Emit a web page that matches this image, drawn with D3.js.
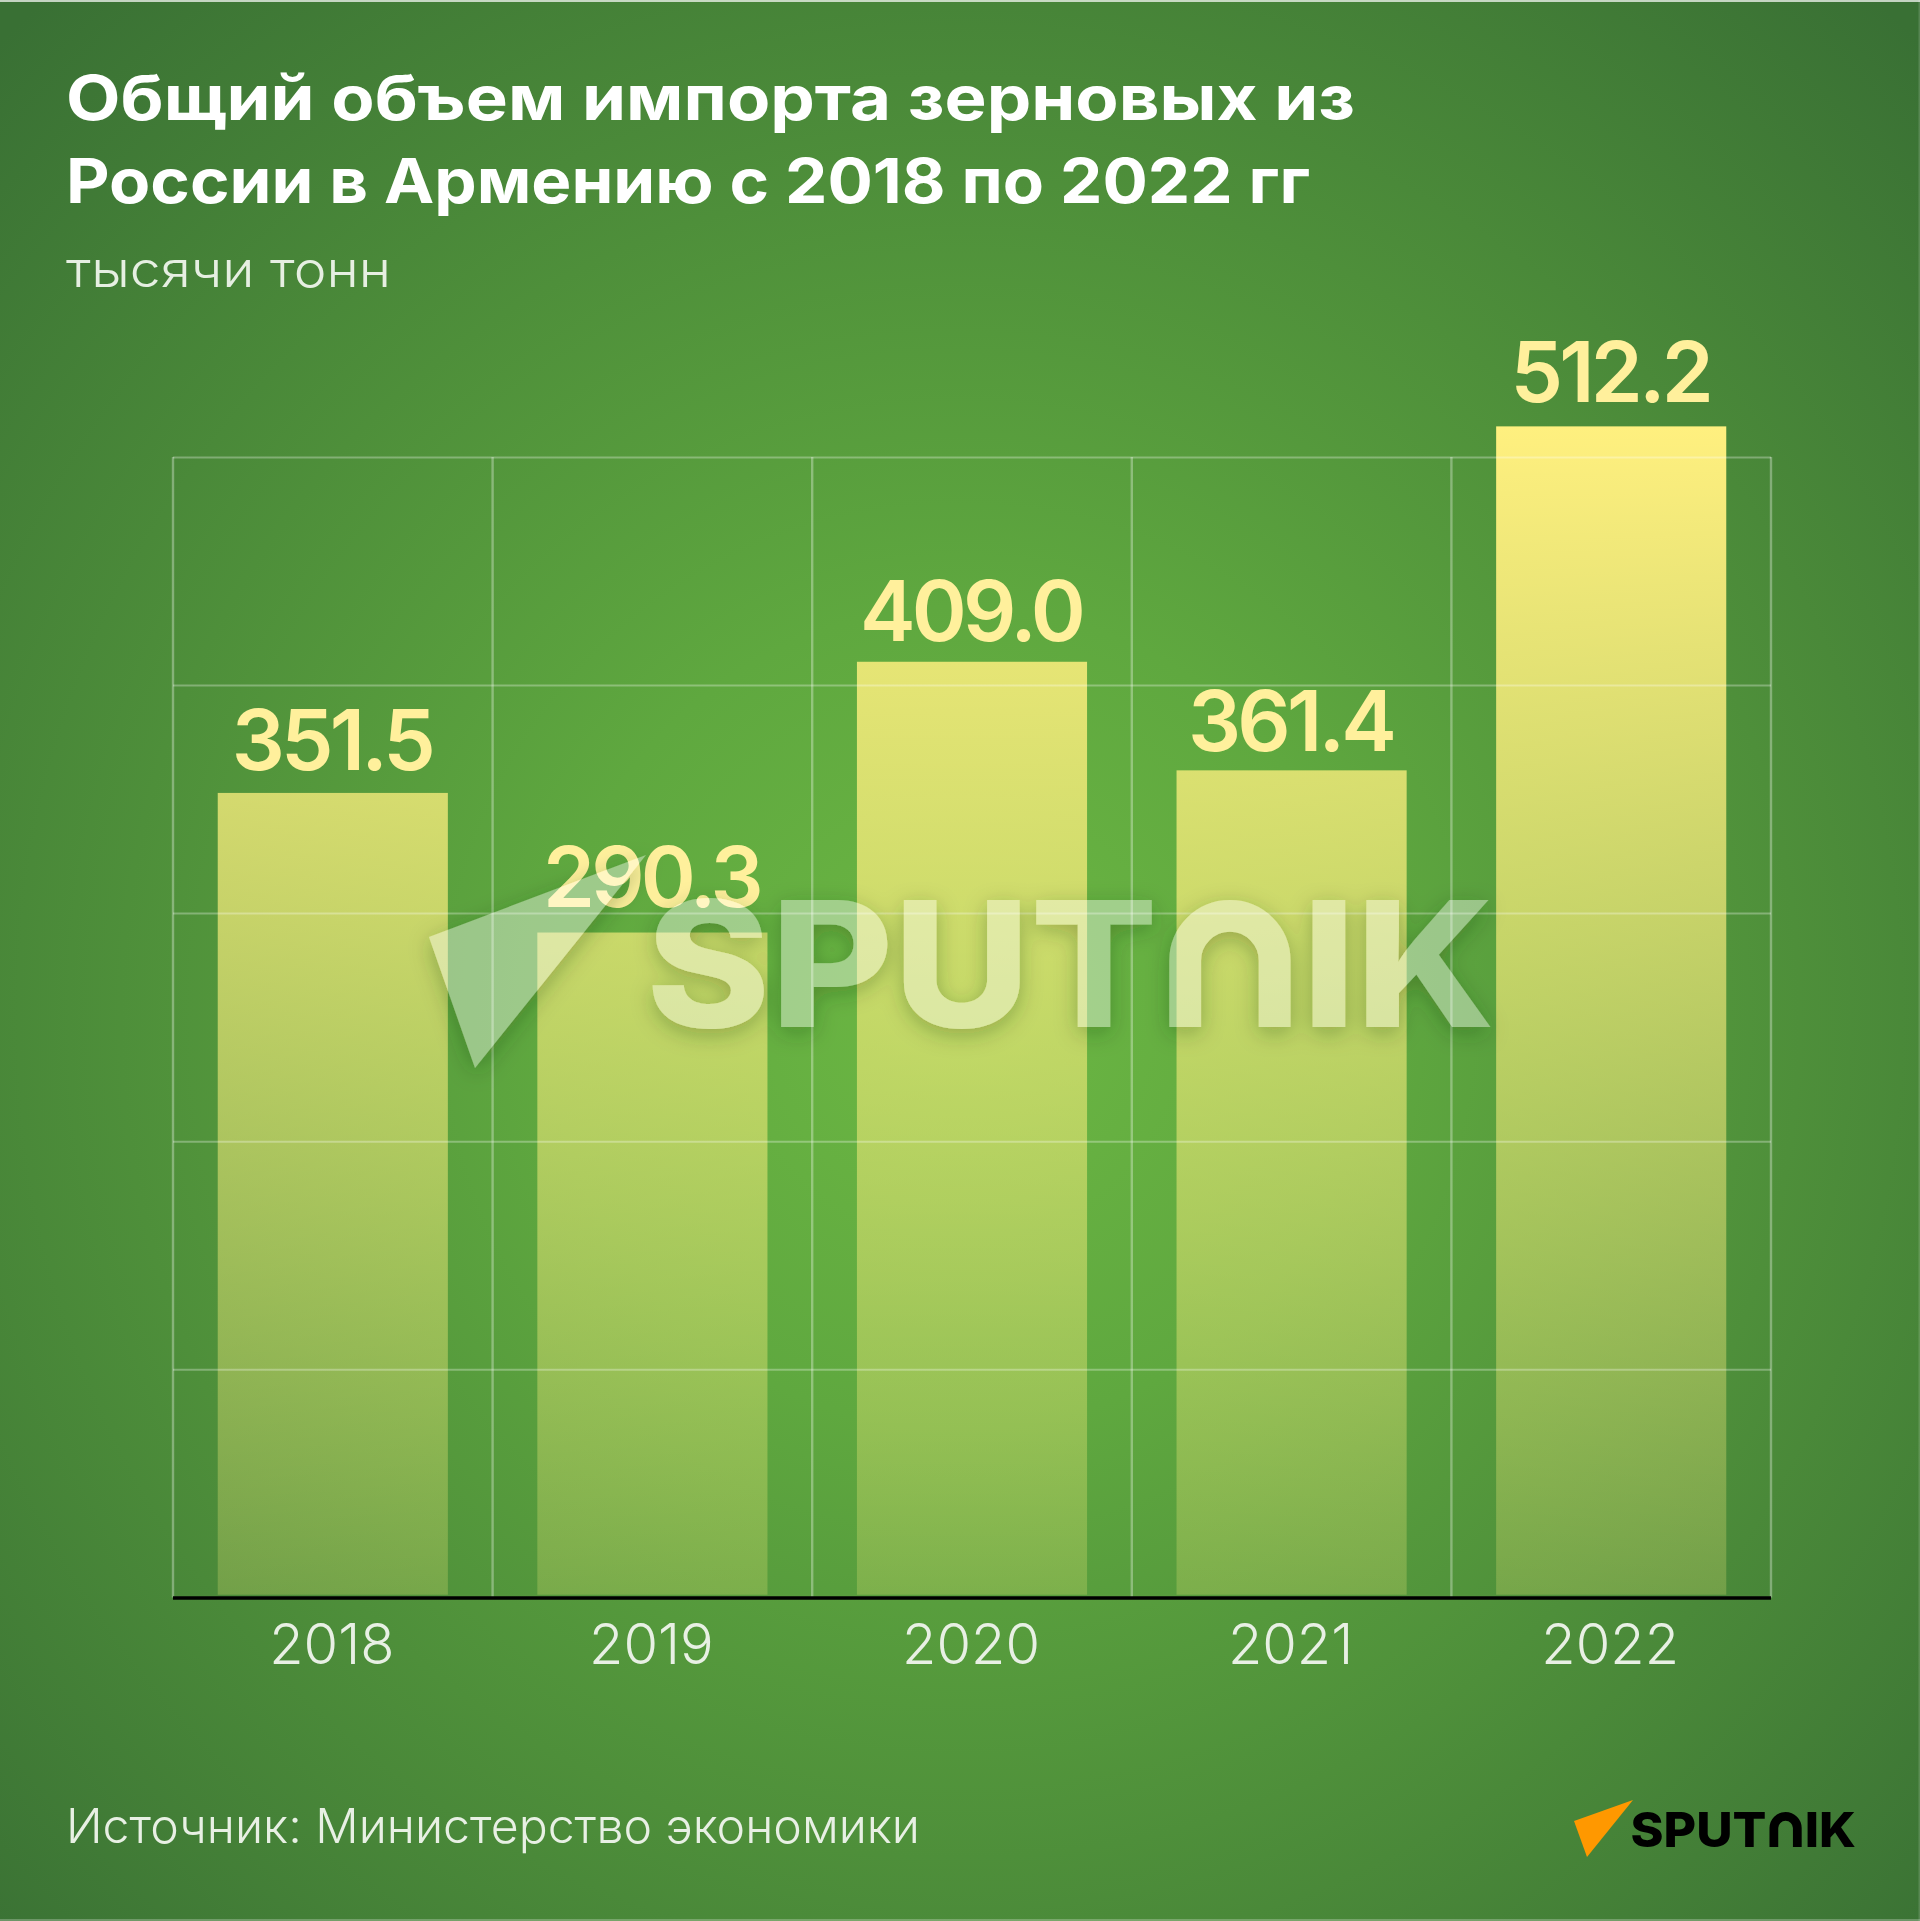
<!DOCTYPE html>
<html><head><meta charset="utf-8">
<script src="https://cdnjs.cloudflare.com/ajax/libs/d3/7.8.5/d3.min.js"></script>
<style>html,body{margin:0;padding:0;background:#3f7a37}svg{display:block}text{font-family:Inter,"Noto Sans",sans-serif}</style>
</head><body><div id="c"></div>
<script>
const years = ["2018","2019","2020","2021","2022"];
const values = [351.5,290.3,409.0,361.4,512.2];
const valueLabels = ["351.5","290.3","409.0","361.4","512.2"];
const gridTicks = [0,100,200,300,400,500];
const titleLines = ["Общий объем импорта зерновых из","России в Армению с 2018 по 2022 гг"];
const subtitle = "тысячи тонн";
const source = "Источник: Министерство экономики";
const brand = "SPUTNIK";

const W=1920,H=1921;
const svg=d3.select("#c").append("svg").attr("width",W).attr("height",H).attr("viewBox",`0 0 ${W} ${H}`);
const defs=svg.append("defs");
const bg=defs.append("radialGradient").attr("id","bg").attr("gradientUnits","userSpaceOnUse")
 .attr("cx",W/2).attr("cy",H*0.53).attr("r",1370);
bg.append("stop").attr("offset",0).attr("stop-color","#6cb743");
bg.append("stop").attr("offset",0.3).attr("stop-color","#5fa83f");
bg.append("stop").attr("offset",1).attr("stop-color","#397034");
const x=d3.scaleBand().domain(years).range([173,1771]).paddingInner(0.28).paddingOuter(0.14);
const y=d3.scaleLinear().domain([0,500]).range([1594.7,454.2]);
const grad=defs.append("linearGradient").attr("id","bar").attr("gradientUnits","userSpaceOnUse")
 .attr("x1",0).attr("x2",0).attr("y1",y(512.2)).attr("y2",y(0));
grad.append("stop").attr("offset",0).attr("stop-color","#fff07f").attr("stop-opacity",1);
grad.append("stop").attr("offset",1).attr("stop-color","#fff07f").attr("stop-opacity",0.22);
const f=defs.append("filter").attr("id","wm").attr("x","-10%").attr("y","-20%").attr("width","120%").attr("height","140%");
f.append("feGaussianBlur").attr("in","SourceAlpha").attr("stdDeviation",11).attr("result","b");
f.append("feOffset").attr("in","b").attr("dy",6).attr("result","o");
f.append("feFlood").attr("flood-color","#1d3a10").attr("flood-opacity",0.3);
f.append("feComposite").attr("in2","o").attr("operator","in").attr("result","s");
f.append("feComposite").attr("in","s").attr("in2","SourceAlpha").attr("operator","out").attr("result","so");
const ct=f.append("feComponentTransfer").attr("in","SourceGraphic").attr("result","fill");
ct.append("feFuncA").attr("type","linear").attr("slope",0.39);
const m=f.append("feMerge");m.append("feMergeNode").attr("in","so");m.append("feMergeNode").attr("in","fill");

svg.append("rect").attr("width",W).attr("height",H).attr("fill","url(#bg)");
// thin light edges of the picture
svg.append("rect").attr("width",W).attr("height",2).attr("fill","#fff").attr("fill-opacity",0.7);
svg.append("rect").attr("y",H-2).attr("width",W).attr("height",2).attr("fill","#fff").attr("fill-opacity",0.25);
svg.append("rect").attr("x",W-1.5).attr("width",1.5).attr("height",H).attr("fill","#fff").attr("fill-opacity",0.15);

// title
const titleWidth=[1289,1244];
const title=svg.append("g").attr("fill","#fff").attr("font-weight",700).attr("font-size",62);
title.selectAll("text").data(titleLines).join("text").attr("x",66).attr("y",(d,i)=>120+i*83)
 .attr("textLength",(d,i)=>titleWidth[i]).attr("lengthAdjust","spacingAndGlyphs").text(d=>d);
svg.append("text").attr("x",66).attr("y",287).attr("font-size",50).attr("font-weight",300).attr("fill","#e6efe2")
 .attr("textLength",325).attr("lengthAdjust","spacingAndGlyphs").text(subtitle);

// bars
svg.append("g").selectAll("rect").data(values).join("rect")
 .attr("x",(d,i)=>x(years[i])).attr("width",x.bandwidth())
 .attr("y",d=>y(d)).attr("height",d=>y(0)-y(d)).attr("fill","url(#bar)");

// grid (drawn through the axes)
const gridStyle=g=>{g.select(".domain").remove();g.selectAll("text").remove();g.selectAll("line").attr("stroke","#fff").attr("stroke-opacity",0.3).attr("stroke-width",2);};
svg.append("g").attr("transform","translate(173,2.7)")
 .call(d3.axisLeft(y).tickValues(gridTicks).tickSize(-1598)).call(gridStyle);
const edges=years.map(d=>x(d)-x.step()*x.paddingInner()/2);edges.push(1771);
svg.append("g").selectAll("line").data(edges).join("line")
 .attr("x1",d=>d).attr("x2",d=>d).attr("y1",y(500)+2.7).attr("y2",y(0)+2.7)
 .attr("stroke","#fff").attr("stroke-opacity",0.32).attr("stroke-width",2.4);

// baseline
svg.append("line").attr("x1",173).attr("x2",1771).attr("y1",y(0)+3.3).attr("y2",y(0)+3.3).attr("stroke","#000").attr("stroke-width",3.6);

// x labels
const xa=svg.append("g").attr("transform",`translate(-1,${y(0)})`).call(d3.axisBottom(x).tickSize(0));
xa.select(".domain").remove();
xa.selectAll("text").attr("font-size",56).attr("font-weight",300).attr("fill","#e8f0e4").attr("dy",0).attr("y",69.5).style("font-family","Inter");

// value labels
const labelGap=[22.5,26,20.7,19,24.5];
svg.append("g").selectAll("text").data(values).join("text")
 .attr("x",(d,i)=>x(years[i])+x.bandwidth()/2-1).attr("y",(d,i)=>y(d)-labelGap[i])
 .attr("text-anchor","middle").attr("font-size",83.5).attr("font-weight",600).attr("letter-spacing",-3.8)
 .attr("fill","#fff09c").text((d,i)=>valueLabels[i]);

// source
svg.append("text").attr("x",66).attr("y",1843).attr("font-size",48).attr("font-weight",300).attr("fill","#e8f0e4")
 .attr("textLength",854).attr("lengthAdjust","spacingAndGlyphs").text(source);

// brand marks
function logo(g,xLeft,xRight,capTop,capBottom,color){
  const fs=(capBottom-capTop)/0.727;
  const t=g.append("text").attr("x",xLeft).attr("y",capBottom).attr("font-size",fs).attr("font-weight",800)
    .attr("textLength",xRight-xLeft).attr("lengthAdjust","spacingAndGlyphs").attr("fill",color);
  ["SPUT","N","IK"].forEach((s,i)=>t.append("tspan").attr("fill",i==1?"none":color).text(s));
  const a=t.node().getExtentOfChar(brand.indexOf("N"));
  const sw=(capBottom-capTop)*0.25, pad=a.width*0.08;
  const l=a.x+pad+sw/2, r=a.x+a.width-pad-sw/2, rad=(r-l)/2;
  g.append("path").attr("fill","none").attr("stroke",color).attr("stroke-width",sw)
   .attr("d",`M${l},${capBottom}V${capTop+rad+sw/2}A${rad},${rad} 0 0 1 ${r},${capTop+rad+sw/2}V${capBottom}`);
}
const wm=svg.append("g").attr("filter","url(#wm)");
wm.append("path").attr("fill","#fff").attr("d","M429,937L646,855L475,1068Z");
logo(wm,646,1495,900,1027,"#fff");
const lg=svg.append("g");
lg.append("path").attr("fill","#ff9800").attr("d","M1574,1821L1633,1800L1587,1857Z");
logo(lg,1630.5,1856,1812,1847,"#000");
</script></body></html>
